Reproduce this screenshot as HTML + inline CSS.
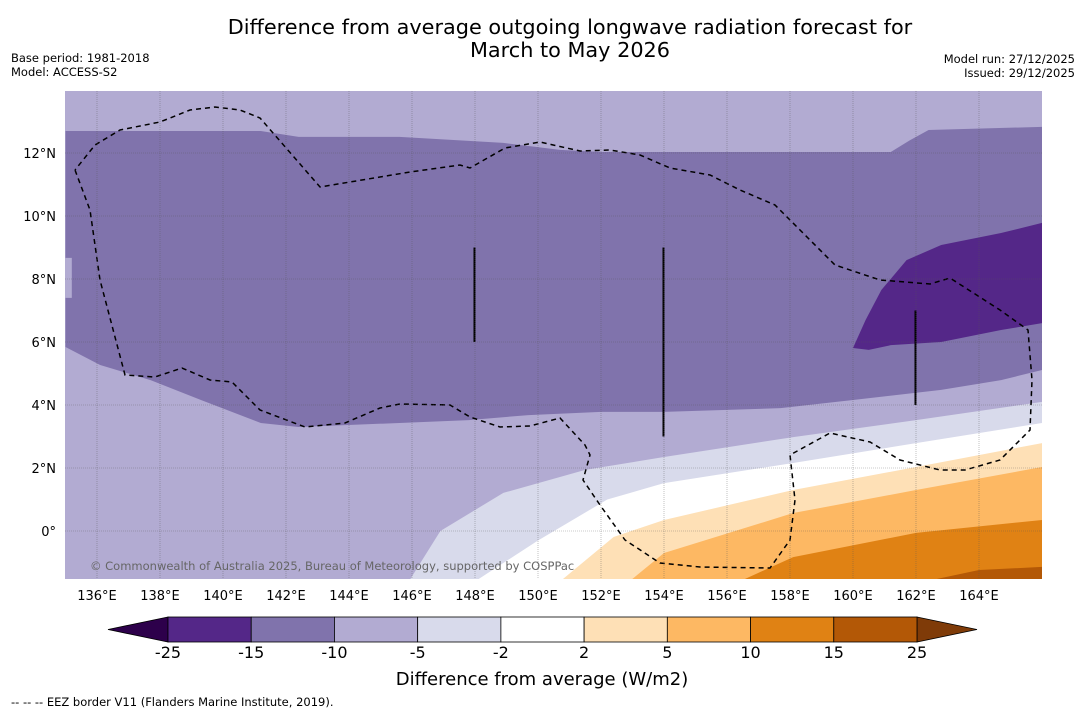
<!DOCTYPE html>
<html><head><meta charset="utf-8"><style>
body{margin:0;background:#fff;width:1085px;height:713px;overflow:hidden;font-family:"Liberation Sans","DejaVu Sans",sans-serif}
svg text{font-family:"DejaVu Sans","Liberation Sans",sans-serif}
</style></head><body>
<svg id="chart" width="1085" height="713" viewBox="0 0 1085 713">
<text x="570" y="34" font-size="20.8" text-anchor="middle">Difference from average outgoing longwave radiation forecast for</text>
<text x="570" y="57" font-size="20.8" text-anchor="middle">March to May 2026</text>
<text x="11" y="62" font-size="11.5">Base period: 1981-2018</text>
<text x="11" y="76" font-size="11.5">Model: ACCESS-S2</text>
<text x="1075" y="63" font-size="11.5" text-anchor="end">Model run: 27/12/2025</text>
<text x="1075" y="77" font-size="11.5" text-anchor="end">Issued: 29/12/2025</text>
<defs><clipPath id="mc"><rect x="65" y="91" width="977" height="488"/></clipPath></defs>
<g id="map" clip-path="url(#mc)"></g>
<g id="overlay"></g>
<g id="cbar"></g>
<text x="542" y="685" font-size="18" text-anchor="middle">Difference from average (W/m2)</text>
<text x="11" y="706" font-size="11.5">--  --  -- EEZ border V11 (Flanders Marine Institute, 2019).</text>
</svg>
<script>
const lonTicks=[136,138,140,142,144,146,148,150,152,154,156,158,160,162,164];
const latTicks=[0,2,4,6,8,10,12];
const levels=[-25,-15,-10,-5,-2,2,5,10,15,25];
const colors=["#542788","#8073ac","#b2abd2","#d8daeb","#ffffff","#fee0b6","#fdb863","#e08214","#b35806"];
const mediumBand=[[135,12.7],[141.2,12.7],[142.4,12.51],[145.6,12.51],[148.9,12.32],[150.7,12.1],[152,12.03],[161.2,12.03],[161.8,12.4],[162.4,12.73],[166,12.83],[166,5.11],[164.7,4.79],[162.8,4.48],[160,4.16],[157.7,3.9],[154,3.78],[152,3.78],[149.7,3.68],[147.8,3.52],[145.6,3.43],[142.4,3.3],[141.2,3.43],[139.3,4.16],[137.7,4.79],[136.1,5.27],[135,5.84],[135,7.4],[135.2,7.4],[135.2,8.67],[135,8.67]];
const darkBand=[[166,9.78],[164.7,9.46],[162.8,9.08],[161.7,8.6],[160.9,7.65],[160.4,6.7],[160,5.81],[160.5,5.75],[161.2,5.9],[162.8,6.0],[164.7,6.38],[166,6.6]];
const lighterEdge=[[145.9,-1.6],[146.9,0.0],[148.9,1.21],[151.5,1.94],[154,2.35],[158.1,2.98],[162,3.52],[166,4.1]];
const whiteEdge=[[148.0,-1.6],[150,-0.3],[152.2,1.0],[154,1.52],[158.1,2.16],[162,2.79],[166,3.43]];
const peachEdge=[[150.7,-1.6],[152.4,-0.19],[154,0.35],[158.1,1.3],[162,2.03],[166,2.79]];
const orangeEdge=[[152.9,-1.6],[154,-0.7],[158.1,0.57],[162,1.3],[166,2.03]];
const darkOrangeEdge=[[156.4,-1.6],[158.1,-0.83],[162,-0.06],[166,0.35]];
const brownEdge=[[162.3,-1.6],[164,-1.24],[166,-1.14]];
const X=lon=>97+(lon-136)*31.5, Y=lat=>531-lat*31.5;
const NS="http://www.w3.org/2000/svg";
const map=document.getElementById('map'), ov=document.getElementById('overlay'), cb=document.getElementById('cbar');
function mk(t,a,p){const e=document.createElementNS(NS,t);for(const k in a)e.setAttribute(k,a[k]);p.appendChild(e);return e;}
const bg=mk('rect',{x:65,y:91,width:977,height:488,fill:colors[2]},map);


function poly(pts,fill,name){const e=mk('polygon',{points:pts.map(p=>X(p[0])+','+Y(p[1])).join(' '),fill:fill},map);

}
poly(mediumBand,colors[1],'band-minus15-minus10');
poly(darkBand,colors[0],'band-minus25-minus15');
function edge(pts,fill,name){poly(pts.concat([[167,pts[pts.length-1][1]],[167,-2],[pts[0][0],-2]]),fill,name);}
edge(lighterEdge,colors[3],'band-minus5-minus2');
edge(whiteEdge,colors[4],'band-minus2-2');
edge(peachEdge,colors[5],'band-2-5');
edge(orangeEdge,colors[6],'band-5-10');
edge(darkOrangeEdge,colors[7],'band-10-15');
edge(brownEdge,colors[8],'band-15-25');
[[148,9,6],[154,9,3],[162,7,4]].forEach(v=>{const l=mk('line',{x1:X(v[0])-0.5,x2:X(v[0])-0.5,y1:Y(v[1]),y2:Y(v[2]),stroke:'#000','stroke-width':2},map);

});
const eez="75,170 90,210 100,280 125,375 155,377 182,368 210,380 232,382 260,410 305,427 345,423 380,408 400,404 450,405 470,417 500,427 530,426 560,418 585,445 590,455 583,480 600,505 625,540 660,563 700,567 770,568 790,540 795,500 790,455 830,433 870,442 900,460 940,470 965,470 1000,460 1030,430 1032,380 1028,330 1000,310 950,278 930,284 880,280 835,265 800,230 775,205 740,190 710,175 670,168 640,155 610,150 580,151 540,142 505,148 470,168 460,165 410,172 320,187 260,118 240,110 215,107 190,110 160,122 120,130 95,145 75,170";
const ez=mk('polyline',{points:eez,fill:'none',stroke:'#000','stroke-width':1.5,'stroke-dasharray':'5,4'},map);


lonTicks.forEach(l=>{mk('line',{x1:X(l),x2:X(l),y1:91,y2:579,stroke:'#555','stroke-width':0.6,'stroke-dasharray':'1,1',opacity:0.6},map);
const t=mk('text',{x:X(l),y:600,'font-size':13,'text-anchor':'middle'},ov);t.textContent=l+'°E';

});
latTicks.forEach(l=>{mk('line',{x1:65,x2:1042,y1:Y(l),y2:Y(l),stroke:'#555','stroke-width':0.6,'stroke-dasharray':'1,1',opacity:0.6},map);
const t=mk('text',{x:56,y:Y(l)+5,'font-size':13,'text-anchor':'end'},ov);t.textContent=l===0?'0°':l+'°N';

});
const cp=mk('text',{x:90,y:570,'font-size':11.5,fill:'#666'},ov);cp.textContent='© Commonwealth of Australia 2025, Bureau of Meteorology, supported by COSPPac';


const cx0=168,cw=(917-168)/9,cy=617,ch=25;
const la=mk('polygon',{points:`${cx0},${cy} 108,${cy+ch/2} ${cx0},${cy+ch}`,fill:'#2d004b',stroke:'#000','stroke-width':0.8},cb);


const ra=mk('polygon',{points:`917,${cy} 977,${cy+ch/2} 917,${cy+ch}`,fill:'#7f3b08',stroke:'#000','stroke-width':0.8},cb);


colors.forEach((c,i)=>{const r=mk('rect',{x:cx0+i*cw,y:cy,width:cw,height:ch,fill:c,stroke:'#000','stroke-width':0.8},cb);

});
levels.forEach((v,i)=>{const t=mk('text',{x:cx0+i*cw,y:658,'font-size':16,'text-anchor':'middle'},cb);t.textContent=v;

});
</script>
</body></html>
